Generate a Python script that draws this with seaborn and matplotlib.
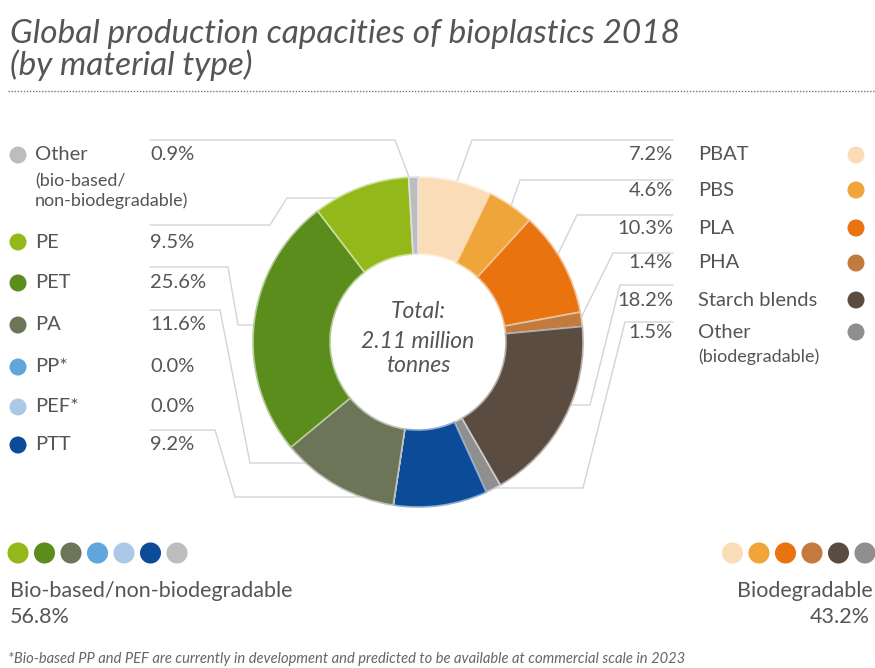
import numpy as np
import matplotlib
matplotlib.use("Agg")
import matplotlib.pyplot as plt
import seaborn as sns
import pandas as pd
from matplotlib.colors import to_rgb

# Biodegradable materials (right column, top to bottom)
biodeg_names = ["PBAT", "PBS", "PLA", "PHA", "Starch blends", "Other"]
biodeg_notes = ["", "", "", "", "", "(biodegradable)"]
biodeg_shares = [7.2, 4.6, 10.3, 1.4, 18.2, 1.5]
biodeg_colors = ["#fbdcb8", "#f0a53a", "#e8730f", "#c27a3e", "#5b4c41", "#8f8f8f"]

# Bio-based / non-biodegradable materials (left column, top to bottom)
biobased_names = ["Other", "PE", "PET", "PA", "PP*", "PEF*", "PTT"]
biobased_notes = ["(bio-based/\nnon-biodegradable)", "", "", "", "", "", ""]
biobased_shares = [0.9, 9.5, 25.6, 11.6, 0.0, 0.0, 9.2]
biobased_colors = ["#bdbdbd", "#93b81a", "#5a8d1c", "#6d7558", "#5fa6dc", "#abc9e6", "#0c4b97"]

# Group summaries shown under the chart
group_names = ["Bio-based/non-biodegradable", "Biodegradable"]
group_shares = [56.8, 43.2]

title_lines = ["Global production capacities of bioplastics 2018", "(by material type)"]
total_text = ["Total:", "2.11 million", "tonnes"]
footnote = ("*Bio-based PP and PEF are currently in development and predicted "
            "to be available at commercial scale in 2023")

W, H = 875, 668
TXT = "#555555"
LINE = "#d4d4d4"

sns.set_theme(style="white")
plt.rcParams["font.family"] = ["Lato", "DejaVu Sans"]

fig = plt.figure(figsize=(W / 100, H / 100), dpi=100)
ax = fig.add_axes([0, 0, 1, 1])


def tint(c, f=0.55):
    r, g, b = to_rgb(c)
    return (r + (1 - r) * f, g + (1 - g) * f, b + (1 - b) * f)


# ring order: clockwise from 12 o'clock, biodegradable first
ring = pd.DataFrame({
    "name": biodeg_names + biobased_names[::-1],
    "share": biodeg_shares + biobased_shares[::-1],
    "color": biodeg_colors + biobased_colors[::-1],
})

cx, cy, R, r_in = 418, 342, 165, 88
# y axis points down (pixel layout), so a counter-clockwise pie in data
# space reads clockwise on the page, starting at the top (-90 deg)
wedges, _ = ax.pie(
    ring["share"], colors=ring["color"], center=(cx, cy), radius=R,
    startangle=-90, counterclock=True, normalize=True,
    wedgeprops=dict(width=R - r_in, linewidth=1.2, zorder=3),
)
for w, c in zip(wedges, ring["color"]):
    w.set_edgecolor(tint(c))

ax.set_xlim(0, W)
ax.set_ylim(H, 0)
ax.set_aspect("auto")
ax.axis("off")


def ring_x(y, side):
    d = np.sqrt(max(R ** 2 - (y - cy) ** 2, 0))
    return cx + side * (d - 8)


# leader lines: label row -> elbow -> wedge (tucked under the ring)
left_paths = [
    [(150, 140), (395, 140), (411, 182)],
    [(150, 225), (270, 225), (287, 198), (ring_x(198, -1), 198)],
    [(150, 267), (228, 267), (238, 325), (ring_x(325, -1), 325)],
    [(150, 310), (220, 310), (250, 463), (ring_x(463, -1), 463)],
    [(150, 430), (215, 430), (235, 497), (400, 497)],
]
right_paths = [
    [(673, 140), (472, 140), (456, 184)],
    [(673, 180), (520, 180), (511, 206)],
    [(673, 215), (577, 215), (557, 256)],
    [(673, 253), (613, 253), (580, 320)],
    [(673, 285), (620, 285), (590, 405), (ring_x(405, 1), 405)],
    [(673, 322), (625, 322), (583, 488), (480, 488)],
]
for p in left_paths + right_paths:
    xs, ys = zip(*p)
    ax.plot(xs, ys, color=LINE, lw=1.0, zorder=1, solid_joinstyle="miter")

# title and dotted rule
ax.text(10, 43, title_lines[0], fontsize=24, style="italic", color=TXT,
        va="baseline", ha="left")
ax.text(10, 75, title_lines[1], fontsize=24, style="italic", color=TXT,
        va="baseline", ha="left")
ax.plot([8, W], [91, 91], color="#777777", lw=1.0, ls=(0, (1, 1.2)))

# centre text
for t, y in zip(total_text, [312, 341, 366]):
    ax.text(cx, y, t, fontsize=16.5, style="italic", color=TXT,
            ha="center", va="center")

# left column labels
left_y = [155, 242, 283, 325, 367, 407, 445]
left_df = pd.DataFrame({"x": 18, "y": left_y, "c": biobased_colors})
sns.scatterplot(data=left_df, x="x", y="y", hue="c", palette=biobased_colors,
                s=150, linewidth=0, legend=False, ax=ax, zorder=4)
for name, note, val, y in zip(biobased_names, biobased_notes, biobased_shares, left_y):
    ax.text(35, y, name, fontsize=14.5, color=TXT, va="center", ha="left")
    ax.text(150, y, f"{val:.1f}%", fontsize=14.5, color=TXT, va="center", ha="left")
    if note:
        ax.text(35, y + 36, note, fontsize=13, color=TXT, va="center",
                ha="left", linespacing=1.2)

# right column labels
right_y = [155, 190, 228, 263, 300, 332]
right_df = pd.DataFrame({"x": 856, "y": right_y, "c": biodeg_colors})
sns.scatterplot(data=right_df, x="x", y="y", hue="c", palette=biodeg_colors,
                s=150, linewidth=0, legend=False, ax=ax, zorder=4)
for name, note, val, y in zip(biodeg_names, biodeg_notes, biodeg_shares, right_y):
    ax.text(673, y, f"{val:.1f}%", fontsize=14.5, color=TXT, va="center", ha="right")
    ax.text(698, y, name, fontsize=14.5, color=TXT, va="center", ha="left")
    if note:
        ax.text(698, y + 25, note, fontsize=13, color=TXT, va="center", ha="left")

# group summaries with colour swatches
left_row = [biobased_colors[i] for i in [1, 2, 3, 4, 5, 6, 0]]
right_row = list(biodeg_colors)
bl = pd.DataFrame({"x": 18 + 26.5 * np.arange(len(left_row)), "y": 553, "c": left_row})
br = pd.DataFrame({"x": 865 - 26.5 * np.arange(len(right_row))[::-1], "y": 553, "c": right_row})
for df, pal in [(bl, left_row), (br, right_row)]:
    sns.scatterplot(data=df, x="x", y="y", hue="c", palette=pal, s=230,
                    linewidth=0, legend=False, ax=ax, zorder=4)

ax.text(10, 591, group_names[0], fontsize=15.5, color=TXT, va="center", ha="left")
ax.text(10, 617, f"{group_shares[0]:.1f}%", fontsize=15.5, color=TXT, va="center", ha="left")
ax.text(873, 591, group_names[1], fontsize=15.5, color=TXT, va="center", ha="right")
ax.text(870, 617, f"{group_shares[1]:.1f}%", fontsize=15.5, color=TXT, va="center", ha="right")

ax.text(8, 659, footnote, fontsize=10.6, style="italic", color="#666666",
        va="center", ha="left")

ax.set_xlim(0, W)
ax.set_ylim(H, 0)
fig.savefig("out.png", dpi=100)
